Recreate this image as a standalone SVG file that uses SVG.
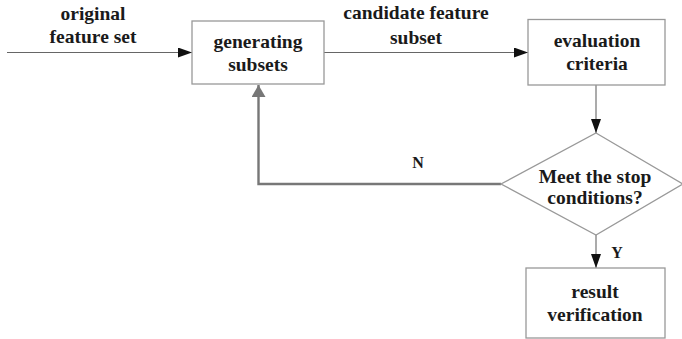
<svg xmlns="http://www.w3.org/2000/svg" width="682" height="339" viewBox="0 0 682 339">
  <defs>
    <marker id="arrow" viewBox="0 0 14 10" refX="14" refY="5" markerWidth="14" markerHeight="10" markerUnits="userSpaceOnUse" orient="auto">
      <path d="M0,0 L14,5 L0,10 Z" fill="#111"/>
    </marker>
    <marker id="arrowGray" viewBox="0 0 12 14" refX="12" refY="7" markerWidth="12" markerHeight="14" markerUnits="userSpaceOnUse" orient="auto">
      <path d="M0,0 L12,7 L0,14 Z" fill="#777"/>
    </marker>
  </defs>
  <style>
    .box { fill: #fff; stroke: #999; stroke-width: 1.3; }
    .lbl { font-weight: bold; font-size: 19.5px; fill: #1a1a1a; text-anchor: middle; }
    .small { font-size: 16px; }
    .conn { fill: none; stroke: #666; stroke-width: 1.1; }
    .back { fill: none; stroke: #777; stroke-width: 2.4; }
  </style>
  <rect width="682" height="339" fill="#fff"/>

  <g font-family="'Liberation Serif', 'DejaVu Serif', serif">
  <g id="connectors">
    <line class="conn" x1="7" y1="52.5" x2="192" y2="52.5" marker-end="url(#arrow)"/>
    <line class="conn" x1="324" y1="52.5" x2="528" y2="52.5" marker-end="url(#arrow)"/>
    <line class="conn" x1="596" y1="85" x2="596" y2="133" marker-end="url(#arrow)"/>
    <polyline class="back" points="501,184 258.5,184 258.5,85" marker-end="url(#arrowGray)"/>
    <line class="conn" x1="596" y1="235" x2="596" y2="268" marker-end="url(#arrow)"/>
    <text class="lbl" x="93" y="20">original</text>
    <text class="lbl" x="93" y="43">feature set</text>
    <text class="lbl" x="416" y="19">candidate feature</text>
    <text class="lbl" x="416" y="44">subset</text>
    <text class="lbl small" x="418" y="168">N</text>
    <text class="lbl small" x="617" y="258">Y</text>
  </g>

  <g id="generating-subsets">
    <rect class="box" x="192" y="21" width="132" height="63"/>
    <text class="lbl" x="258" y="48">generating</text>
    <text class="lbl" x="258" y="71">subsets</text>
  </g>

  <g id="evaluation-criteria">
    <rect class="box" x="528" y="19.5" width="137" height="65.5"/>
    <text class="lbl" x="597" y="47">evaluation</text>
    <text class="lbl" x="597" y="70">criteria</text>
  </g>

  <g id="stop-conditions">
    <polygon class="box" points="596,133 683,184 596,235 501,184"/>
    <text class="lbl" x="595" y="183">Meet the stop</text>
    <text class="lbl" x="595" y="204">conditions?</text>
  </g>

  <g id="result-verification">
    <rect class="box" x="526" y="268" width="139" height="70"/>
    <text class="lbl" x="595" y="298">result</text>
    <text class="lbl" x="595" y="321">verification</text>
  </g>
  </g>
</svg>
